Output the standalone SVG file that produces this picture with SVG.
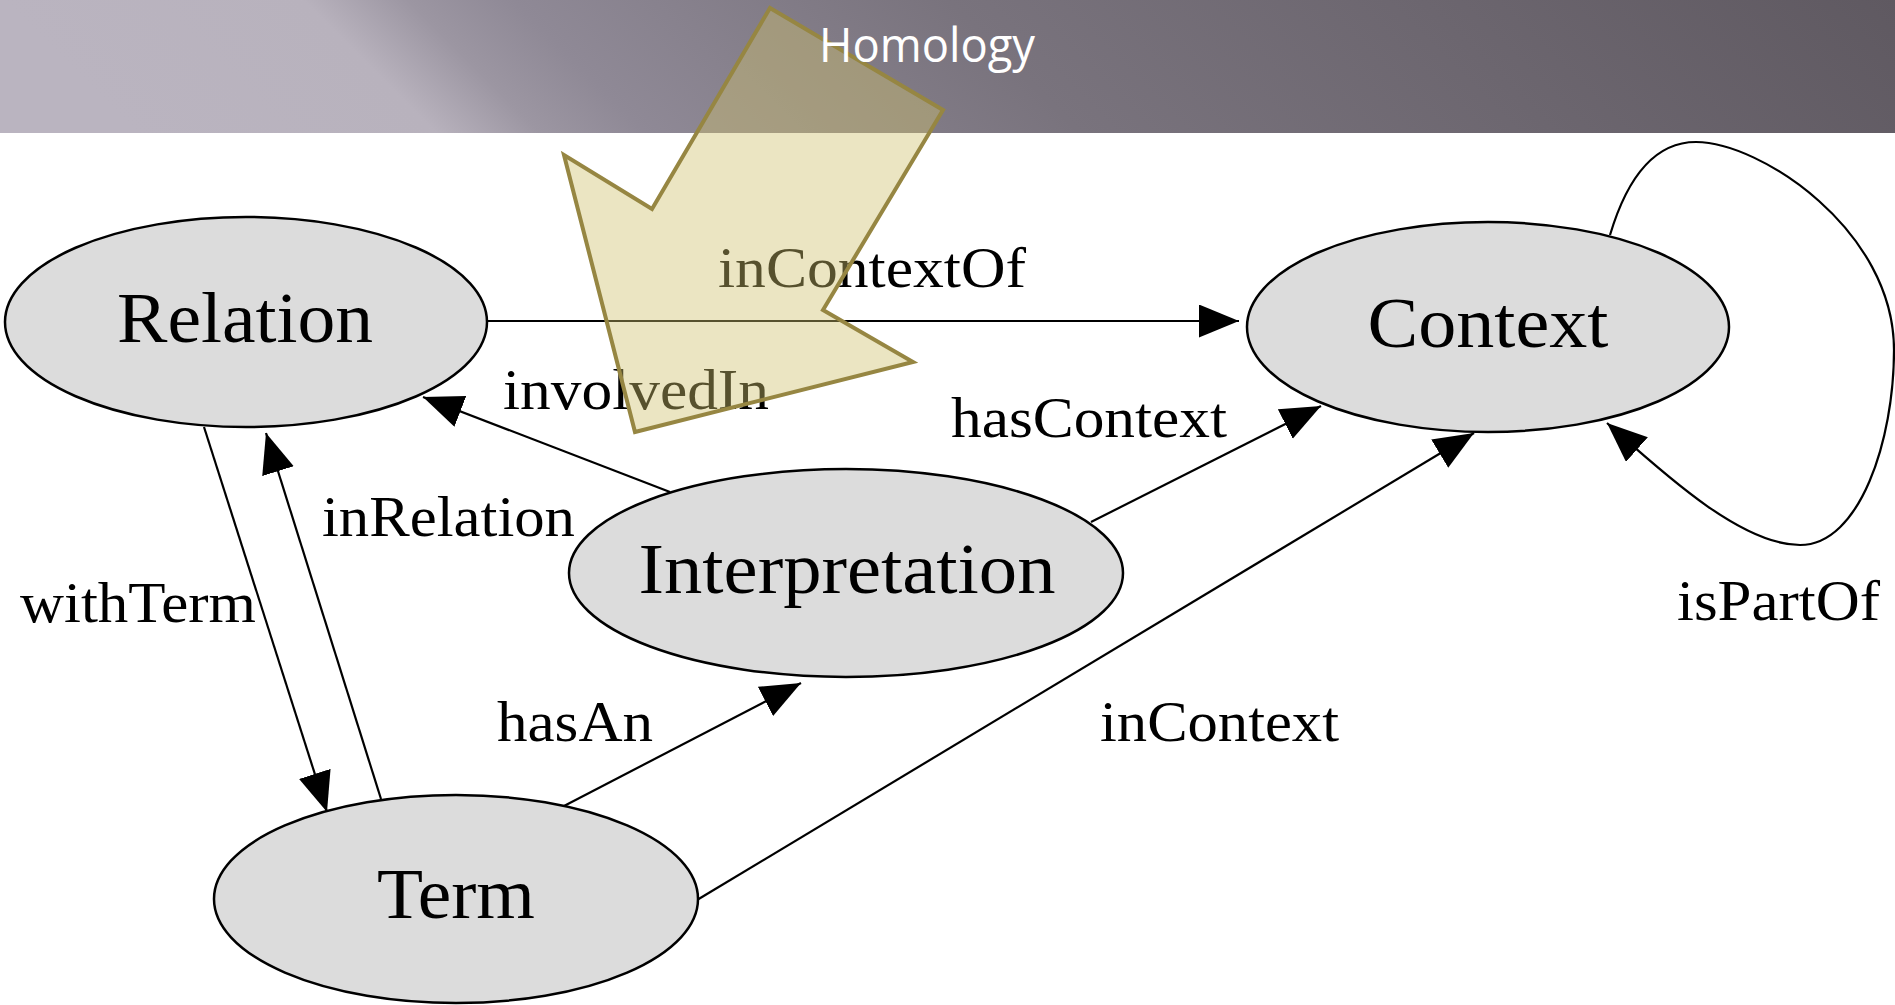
<svg xmlns="http://www.w3.org/2000/svg" width="1895" height="1005" viewBox="0 0 1895 1005">
  <defs>
    <linearGradient id="hdr" gradientUnits="userSpaceOnUse" x1="0" y1="0" x2="1895" y2="0" gradientTransform="skewX(45)">
      <stop offset="0" stop-color="#bab4c0"/>
      <stop offset="0.16" stop-color="#b8b2bd"/>
      <stop offset="0.215" stop-color="#9c96a2"/>
      <stop offset="0.27" stop-color="#8f8996"/>
      <stop offset="0.5" stop-color="#79737d"/>
      <stop offset="1" stop-color="#5f5961"/>
    </linearGradient>
    <marker id="ah" markerUnits="userSpaceOnUse" markerWidth="42" markerHeight="34" refX="40" refY="16.5" orient="auto">
      <path d="M0,0 L40,16.5 L0,33 Z" fill="#000"/>
    </marker>
  </defs>
  <style>
    .node ellipse { fill: #dcdcdc; stroke: #000; stroke-width: 2.5; }
    .node text { font-family: "Liberation Serif", "Times New Roman", serif; font-size: 72px; fill: #000; text-anchor: middle; }
    .edge path { fill: none; stroke: #000; stroke-width: 2.2; marker-end: url(#ah); }
    .lbl { font-family: "Liberation Serif", "Times New Roman", serif; font-size: 58px; fill: #000; }
  </style>
  <rect id="header" x="0" y="0" width="1895" height="133" fill="url(#hdr)"/>
  <rect x="0" y="133" width="1895" height="872" fill="#ffffff"/>

  <g id="connectors" class="edge">
    <path id="e-inContextOf" d="M487,321 L1239,321"/>
    <path id="e-involvedIn" d="M670,492 L423,397"/>
    <path id="e-hasContext" d="M1091,522 L1321,406"/>
    <path id="e-inContext" d="M697,900 L1474,433"/>
    <path id="e-hasAn" d="M564,806 L801,683"/>
    <path id="e-withTerm" d="M204,427 L327,812"/>
    <path id="e-inRelation" d="M381,799 L266,433"/>
    <path id="e-isPartOf" d="M1610,235 C1625,185 1650,142 1696,142 C1760,142 1894,230 1894,350 C1894,440 1860,545 1800,545 C1740,545 1660,470 1607,423"/>
    <text class="lbl" x="718" y="287" textLength="308" lengthAdjust="spacingAndGlyphs">inContextOf</text>
    <text class="lbl" x="503" y="409" textLength="266" lengthAdjust="spacingAndGlyphs">involvedIn</text>
    <text class="lbl" x="951" y="437" textLength="276" lengthAdjust="spacingAndGlyphs">hasContext</text>
    <text class="lbl" x="322" y="536" textLength="253" lengthAdjust="spacingAndGlyphs">inRelation</text>
    <text class="lbl" x="20" y="622" textLength="236" lengthAdjust="spacingAndGlyphs">withTerm</text>
    <text class="lbl" x="497" y="741" textLength="156" lengthAdjust="spacingAndGlyphs">hasAn</text>
    <text class="lbl" x="1100" y="741" textLength="239" lengthAdjust="spacingAndGlyphs">inContext</text>
    <text class="lbl" x="1677" y="620" textLength="203" lengthAdjust="spacingAndGlyphs">isPartOf</text>
  </g>

  <g id="node-relation" class="node">
    <ellipse cx="246" cy="322" rx="241" ry="105"/>
    <text x="245" y="342" textLength="256" lengthAdjust="spacingAndGlyphs">Relation</text>
  </g>
  <g id="node-context" class="node">
    <ellipse cx="1488" cy="327" rx="241" ry="105"/>
    <text x="1488" y="347" textLength="241" lengthAdjust="spacingAndGlyphs">Context</text>
  </g>
  <g id="node-interpretation" class="node">
    <ellipse cx="846" cy="573" rx="277" ry="104"/>
    <text x="847" y="593" textLength="417" lengthAdjust="spacingAndGlyphs">Interpretation</text>
  </g>
  <g id="node-term" class="node">
    <ellipse cx="456" cy="899" rx="242" ry="104"/>
    <text x="456" y="918" textLength="158" lengthAdjust="spacingAndGlyphs">Term</text>
  </g>

  <polygon id="callout-arrow" points="770,8 943,110 823,310 913,362 635,432 564,155 652,209" fill="rgb(208,192,110)" fill-opacity="0.42" stroke="#968642" stroke-width="4" stroke-linejoin="miter"/>

  <text id="title" x="819" y="62" font-family="'Open Sans', 'Liberation Sans', sans-serif" font-size="48" fill="#ffffff" textLength="216" lengthAdjust="spacingAndGlyphs">Homology</text>
</svg>
